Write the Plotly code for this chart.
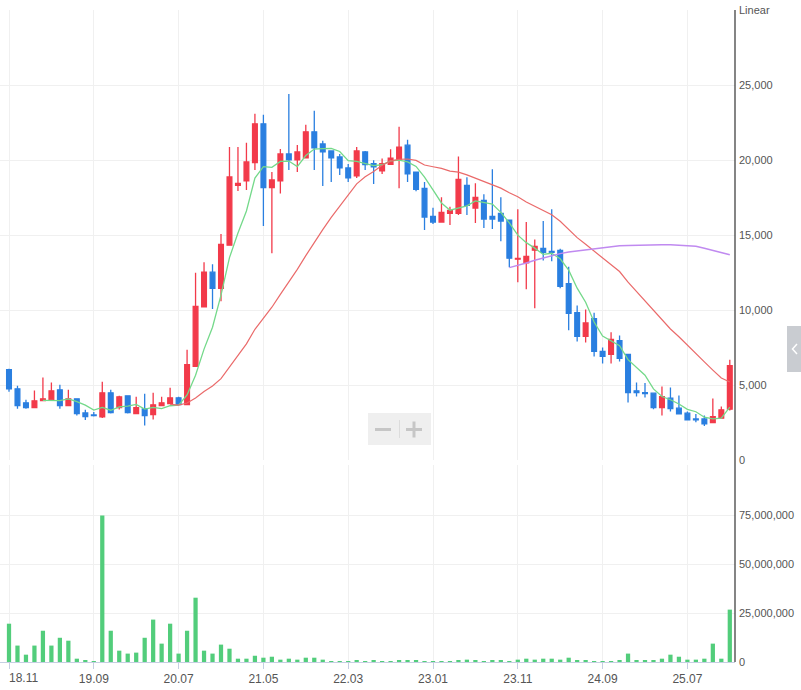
import plotly.graph_objects as go
import pandas as pd

# ---- data (monthly candles, 2018.11 .. 2025.12) ----
opens = [6016, 4746, 3810, 3496, 3964, 4010, 4679, 3630, 4077, 3141,
         3000, 2874, 4478, 3496, 4278, 3095, 3409, 3028, 3630, 3763,
         4144, 3696, 6236, 10206, 12519, 11450, 14324, 18314, 18602, 19831,
         22411, 18160, 18602, 20406, 20005, 20139, 21877, 21075, 20607, 20206,
         19471, 18936, 20540, 19764, 19270, 19718, 20005, 20988, 19183, 18114,
         16242, 15861, 16443, 16443, 18314, 16797, 17312, 16242, 16443, 15995,
         13388, 13147, 13990, 14103, 13903, 13970, 11764, 9825, 8241, 9424,
         7239, 7038, 7954, 7038, 4612, 4498, 4458, 3496, 4124, 3456,
         3121, 2740, 2740, 2493, 2787, 3389]
highs = [6082, 4946, 4010, 4632, 5501, 5167, 5013, 4679, 4077, 3342,
         3208, 5213, 4679, 4278, 4300, 4211, 4411, 4478, 4211, 4812,
         4211, 7352, 12479, 13188, 13054, 15059, 20874, 20874, 21142, 23080,
         23013, 19203, 20740, 24400, 21008, 22345, 23280, 21276, 20607, 20406,
         19738, 20874, 20607, 19985, 20098, 20720, 22211, 21342, 19183, 18535,
         16823, 17512, 16890, 20232, 18849, 18448, 17713, 19384, 17512, 15995,
         16710, 15861, 14705, 15928, 16710, 14083, 12880, 10293, 10026, 9825,
         7506, 8509, 8308, 7038, 5167, 5127, 4458, 4899, 4832, 4298,
         3228, 3075, 2961, 4097, 3563, 6684]
lows = [4545, 3409, 3409, 3496, 3964, 4010, 3409, 3630, 2961, 2674,
        2894, 2807, 3100, 3362, 3100, 3095, 2293, 2694, 3630, 3763,
        3696, 3696, 6236, 10206, 10073, 10581, 14324, 17933, 18000, 19337,
        15594, 13789, 17759, 19337, 19203, 20139, 19337, 18268, 18535, 19003,
        18535, 18802, 19337, 18402, 19070, 19718, 18114, 18535, 17913, 15327,
        15727, 15861, 15661, 16329, 16329, 15794, 15460, 15394, 14591, 12853,
        11851, 11383, 10113, 13301, 13254, 11450, 8642, 7907, 7840, 6905,
        6437, 6437, 6570, 3830, 4231, 4164, 3389, 2961, 3228, 3075,
        2674, 2520, 2273, 2493, 2787, 3295]
closes = [4746, 3630, 3496, 3944, 4077, 4612, 3630, 4077, 3095, 2894,
          2960, 4478, 3162, 4211, 3162, 3496, 2961, 3676, 3810, 4144,
          3696, 6350, 10247, 12519, 11450, 14371, 18869, 18448, 19872, 22411,
          18160, 18668, 20406, 20005, 20540, 21877, 20807, 20540, 20139, 19471,
          18802, 20607, 19700, 19537, 19764, 20119, 20854, 19070, 18047, 16196,
          15861, 16509, 16643, 18715, 16977, 17512, 16062, 16062, 15928, 13455,
          13435, 13569, 14237, 13836, 13836, 11583, 9779, 8241, 9137, 7239,
          6905, 8041, 6771, 4498, 4498, 4432, 3496, 4231, 3429, 3075,
          2674, 2674, 2406, 2894, 3342, 6283]
volumes_m = [19.6, 8.4, 3.75, 8.4, 16.0, 8.4, 12.4, 10.9, 1.7, 0.7,
             0.1, 75.0, 16.0, 5.8, 4.3, 4.8, 12.4, 21.7, 9.4, 19.6,
             4.3, 16.0, 32.9, 5.8, 4.3, 8.9, 6.8, 1.7, 1.7, 3.2,
             2.2, 2.7, 1.2, 1.7, 1.2, 2.2, 2.2, 1.2, 0.2, 0.1,
             0.1, 0.7, 0.1, 0.7, 0.1, 0.1, 0.7, 0.7, 0.7, 0.1,
             0.1, 0.1, 0.1, 0.7, 1.2, 0.7, 0.1, 0.7, 0.7, 0.1,
             1.2, 1.7, 1.2, 1.7, 1.7, 1.2, 2.2, 0.7, 0.7, 0.1,
             0.2, 0.1, 0.7, 4.3, 0.7, 0.7, 0.7, 1.7, 3.75, 2.7,
             1.2, 1.2, 1.7, 9.4, 1.7, 26.8]
tick_index = [0, 10, 20, 30, 40, 50, 60, 70, 80]
tick_labels = ["18.11", "19.09", "20.07", "21.05", "22.03", "23.01", "23.11", "24.09", "25.07"]
price_ticks = [0, 5000, 10000, 15000, 20000, 25000, 30000]
price_tick_text = ["0", "5,000", "10,000", "15,000", "20,000", "25,000", "Linear"]
vol_ticks = [0, 25e6, 50e6, 75e6]

idx = list(range(len(closes)))
volumes = [v * 1e6 for v in volumes_m]
cs = pd.Series(closes, dtype=float)
ma5 = cs.rolling(5).mean()
ma20 = cs.rolling(20).mean()
ma60 = cs.rolling(60).mean()

RED = "#f23a4a"
BLUE = "#2a7fe0"
GRID = "#f0f0f0"
TXT = "#555555"

W, H = 801, 690
ML, MR, MT, MB = 0, 66, 10, 28
PW = W - ML - MR
PH = H - MT - MB


def px(x):
    return (x - ML) / PW


def py(y):
    return (H - MB - y) / PH


fig = go.Figure()
fig.add_trace(go.Candlestick(
    x=idx, open=opens, high=highs, low=lows, close=closes,
    increasing=dict(line=dict(color=RED, width=1.3), fillcolor=RED),
    decreasing=dict(line=dict(color=BLUE, width=1.3), fillcolor=BLUE),
    whiskerwidth=0, xaxis="x2", yaxis="y", showlegend=False, name="",
))
fig.add_trace(go.Scatter(x=idx, y=ma5, mode="lines", line=dict(color="#74d98a", width=1.3),
                         xaxis="x2", yaxis="y", showlegend=False, hoverinfo="skip"))
fig.add_trace(go.Scatter(x=idx, y=ma20, mode="lines", line=dict(color="#ea6a6a", width=1.2),
                         xaxis="x2", yaxis="y", showlegend=False, hoverinfo="skip"))
fig.add_trace(go.Scatter(x=idx, y=ma60, mode="lines", line=dict(color="#c08af0", width=1.5),
                         xaxis="x2", yaxis="y", showlegend=False, hoverinfo="skip"))
fig.add_trace(go.Bar(x=idx, y=volumes, marker=dict(color="#52cd7b", line=dict(width=0)),
                     width=0.5, xaxis="x", yaxis="y2", showlegend=False))

xr = [-(9 - ML) / 8.48, (735 - 9) / 8.48]
tickfont = dict(family="Liberation Sans, Arial, sans-serif", size=11, color=TXT)
xfont = dict(family="Liberation Sans, Arial, sans-serif", size=12, color=TXT)

# first tick label is drawn as an annotation so it can sit inside the left edge
x_ticktext = [""] + tick_labels[1:]

fig.update_layout(
    width=W, height=H, margin=dict(l=ML, r=MR, t=MT, b=MB, autoexpand=False),
    paper_bgcolor="white", plot_bgcolor="white",
    boxgap=0.2,
    xaxis=dict(domain=[0, 1], range=xr, anchor="y2", tickvals=tick_index, ticktext=x_ticktext,
               showgrid=True, gridcolor=GRID, zeroline=False, showline=True, linecolor="#c6cfe2",
               ticks="outside", ticklen=6, tickcolor="#c6cfe2", tickfont=xfont,
               ticklabeloverflow="allow", rangeslider=dict(visible=False)),
    xaxis2=dict(domain=[0, 1], range=xr, anchor="y", matches="x", tickvals=tick_index,
                showticklabels=False, showgrid=True, gridcolor=GRID, zeroline=False,
                rangeslider=dict(visible=False)),
    yaxis=dict(domain=[py(460), 1], range=[0, 30000], anchor="x2", side="right",
               tickvals=price_ticks, ticktext=price_tick_text, showgrid=True, gridcolor=GRID,
               zeroline=False, showline=False, tickfont=tickfont, ticks="", ticklabelstandoff=3,
               ticklabeloverflow="allow"),
    yaxis2=dict(domain=[0, py(465)], range=[0, 100.8e6], anchor="x", side="right",
                tickvals=vol_ticks, tickformat=",d", showgrid=True, gridcolor=GRID,
                zeroline=False, showline=False, tickfont=tickfont, ticks="", ticklabelstandoff=3,
                ticklabeloverflow="allow"),
    bargap=0.5,
    hovermode=False,
)

fig.add_annotation(xref="paper", yref="paper", x=px(7), y=py(669), xanchor="left", yanchor="top",
                   text=tick_labels[0], showarrow=False, font=xfont)

shapes = [
    dict(type="line", xref="paper", yref="paper", x0=1, x1=1, y0=0, y1=1,
         line=dict(color="#333333", width=1.2)),
    dict(type="rect", xref="paper", yref="paper", x0=px(368), x1=px(431), y0=py(445), y1=py(413),
         fillcolor="#efefef", line=dict(width=0), layer="above"),
    dict(type="line", xref="paper", yref="paper", x0=px(399.5), x1=px(399.5), y0=py(438), y1=py(420),
         line=dict(color="#dcdcdc", width=1)),
    dict(type="line", xref="paper", yref="paper", x0=px(375), x1=px(391), y0=py(429.5), y1=py(429.5),
         line=dict(color="#c6c6c6", width=3)),
    dict(type="line", xref="paper", yref="paper", x0=px(406), x1=px(422), y0=py(429.5), y1=py(429.5),
         line=dict(color="#c6c6c6", width=3)),
    dict(type="line", xref="paper", yref="paper", x0=px(414), x1=px(414), y0=py(437.5), y1=py(421.5),
         line=dict(color="#c6c6c6", width=3)),
    dict(type="rect", xref="paper", yref="paper", x0=px(787), x1=px(805), y0=py(372), y1=py(326),
         fillcolor="#c9ccd1", line=dict(width=0)),
    dict(type="path", xref="paper", yref="paper",
         path=f"M {px(797)} {py(344)} L {px(792.5)} {py(349)} L {px(797)} {py(354)}",
         line=dict(color="white", width=1.5)),
]
fig.update_layout(shapes=shapes)

fig.write_html("out.html", config={"displayModeBar": False},
               post_script="document.body.style.margin='0';")
